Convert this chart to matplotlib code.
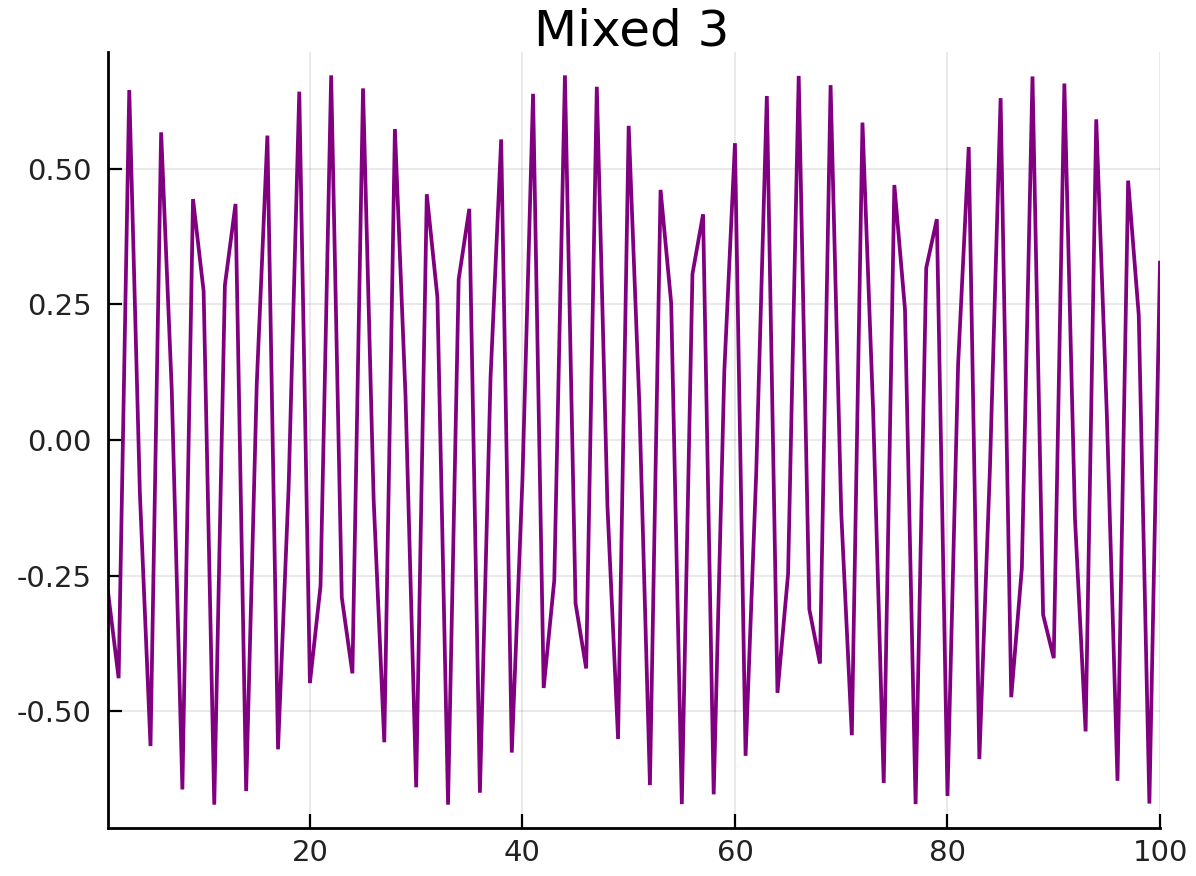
import matplotlib
matplotlib.use("Agg")
import matplotlib.pyplot as plt
from matplotlib.ticker import FormatStrFormatter

# valores (x = 1..100)
x = list(range(1, 101))
y = [
    -0.280, -0.439, 0.645, -0.098, -0.564, 0.567, 0.092, -0.644, 0.444, 0.274,
    -0.672, 0.285, 0.435, -0.647, 0.104, 0.561, -0.570, -0.086, 0.642, -0.448,
    -0.269, 0.672, -0.290, -0.430, 0.648, -0.110, -0.557, 0.573, 0.080, -0.640,
    0.453, 0.263, -0.672, 0.296, 0.426, -0.650, 0.115, 0.554, -0.576, -0.074,
    0.638, -0.457, -0.258, 0.672, -0.301, -0.421, 0.651, -0.121, -0.551, 0.579,
    0.068, -0.636, 0.461, 0.252, -0.671, 0.306, 0.416, -0.653, 0.127, 0.547,
    -0.582, -0.062, 0.634, -0.466, -0.247, 0.671, -0.312, -0.412, 0.654, -0.133,
    -0.544, 0.585, 0.056, -0.632, 0.470, 0.241, -0.671, 0.317, 0.407, -0.656,
    0.139, 0.540, -0.588, -0.050, 0.630, -0.474, -0.236, 0.670, -0.322, -0.402,
    0.657, -0.145, -0.537, 0.591, 0.045, -0.628, 0.478, 0.230, -0.670, 0.327,
]
xticks = [20, 40, 60, 80, 100]
yticks = [-0.50, -0.25, 0.00, 0.25, 0.50]
titulo = "Mixed 3"

plt.rcParams.update({"font.family": "DejaVu Sans"})
fig = plt.figure(figsize=(11.96, 8.76), dpi=100)
ax = fig.add_axes([0.0903, 0.0548, 0.8796, 0.8858])

ax.plot(x, y, color="#800080", lw=2.7, solid_joinstyle="miter")

ax.set_xlim(1, 100)
ax.set_ylim(-0.715, 0.715)
ax.set_xticks(xticks)
ax.set_yticks(yticks)
ax.yaxis.set_major_formatter(FormatStrFormatter("%.2f"))
ax.grid(True, color="black", alpha=0.1, lw=1.2)
ax.set_axisbelow(True)

for s in ("top", "right"):
    ax.spines[s].set_visible(False)
for s in ("left", "bottom"):
    ax.spines[s].set_linewidth(2.0)
ax.tick_params(direction="in", length=10, width=1.6, labelsize=21,
               colors="black", labelcolor="#222222")
ax.tick_params(axis="y", pad=12)
ax.tick_params(axis="x", pad=8)

# título no topo, encostado na borda como no original
fig.text(632 / 1196, 1 - 45 / 876, titulo, ha="center", va="baseline",
         fontsize=36, color="black")

fig.savefig("out.png", dpi=100)
